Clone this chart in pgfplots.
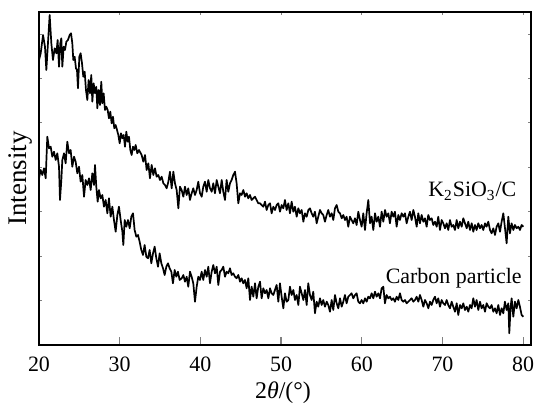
\documentclass[border=0pt]{standalone}
\usepackage{pgfplots}
\pgfplotsset{compat=1.18}
\usepackage{fontspec}
\setmainfont{Liberation Serif}
\begin{document}
\begin{tikzpicture}
\begin{axis}[
  at={(0,0)}, anchor=south west,
  scale only axis, width=246bp, height=166.5bp,
  xmin=20, xmax=80.97, ymin=0, ymax=333,
  xtick={20,30,40,50,60,70,80},
  ytick=\empty,
  xtick pos=left,
  tick align=inside,
  major tick length=4bp,
  tick style={line width=0.6bp},
  axis line style={line width=0.6bp},
  /pgf/number format/assume math mode=true,
  tick label style={font=\fontsize{11}{13}\selectfont},
  xticklabel style={yshift=-2.2bp},
  xlabel={2\textit{θ}/(°)},
  ylabel={Intensity},
  xlabel style={at={(axis description cs:0.496,-0.144)}, anchor=center, font=\fontsize{12}{14}\selectfont},
  ylabel style={at={(axis description cs:-0.0366,0.5)}, anchor=center, rotate=0, font=\fontsize{13.5}{15}\selectfont},
  clip=true,
]
\addplot[black, line width=0.85bp, line join=round] coordinates {
(20.00,285.0)(20.21,291.7)(20.50,310.0)(20.74,298.3)(20.91,275.0)(21.16,308.3)(21.32,330.0)(21.53,301.7)(21.73,285.0)(21.94,296.7)(22.15,291.7)(22.31,305.0)(22.48,278.3)(22.64,301.7)(22.77,306.7)(22.89,278.3)(23.06,298.3)(23.22,295.0)(23.39,303.3)(23.59,305.0)(23.80,310.0)(23.97,311.7)(24.13,301.7)(24.25,285.0)(24.42,288.3)(24.58,276.7)(24.71,275.0)(24.83,256.7)(25.00,288.3)(25.16,291.7)(25.33,281.7)(25.49,268.3)(25.66,273.3)(25.82,255.0)(25.99,245.0)(26.15,265.0)(26.32,251.7)(26.48,270.0)(26.61,243.3)(26.77,261.7)(26.94,251.7)(27.10,258.3)(27.23,236.7)(27.39,255.0)(27.56,240.0)(27.72,263.3)(27.85,241.7)(28.01,251.7)(28.18,235.0)(28.34,238.3)(28.51,235.0)(28.67,226.7)(28.84,233.3)(29.00,221.7)(29.17,228.3)(29.33,216.7)(29.50,220.0)(29.67,215.0)(29.83,210.0)(30.00,201.7)(30.16,211.7)(30.33,206.7)(30.49,210.0)(30.66,198.3)(30.82,213.3)(30.99,203.3)(31.15,208.3)(31.32,195.0)(31.48,190.0)(31.65,198.3)(31.81,195.0)(31.98,200.0)(32.18,191.7)(32.39,195.0)
(32.72,190.0)(32.93,183.3)(33.14,190.0)(33.34,175.0)(33.55,181.7)(33.75,166.7)(33.96,180.0)(34.17,170.0)(34.37,176.7)(34.58,168.3)(34.79,170.0)(34.99,165.0)(35.20,168.3)(35.41,161.7)(35.61,160.0)(35.82,156.7)(36.03,163.3)(36.23,173.3)(36.44,156.7)(36.65,173.3)(36.85,161.7)(37.06,155.0)(37.27,136.7)(37.47,158.3)(37.68,155.0)(37.89,148.3)(38.09,158.3)(38.30,150.0)(38.50,156.7)(38.71,145.0)(38.92,151.7)(39.12,156.7)(39.33,150.0)(39.54,155.0)(39.74,163.3)(39.95,151.7)(40.16,148.3)(40.36,158.3)(40.57,163.3)(40.78,153.3)(40.98,165.0)(41.19,156.7)(41.40,153.3)(41.60,161.7)(41.81,151.7)(42.02,165.0)(42.22,158.3)(42.43,151.7)(42.64,165.0)(42.84,153.3)(43.05,145.0)(43.25,165.0)(43.46,153.3)(43.67,161.7)(43.87,165.0)(44.08,170.0)(44.29,173.3)(44.49,161.7)(44.70,141.7)(44.91,151.7)(45.11,150.0)(45.32,155.0)(45.53,148.3)(45.73,151.7)(45.94,146.7)(46.15,150.0)(46.35,145.0)(46.56,146.7)(46.77,148.3)(46.97,145.0)(47.18,141.7)
(47.39,141.7)(47.59,140.0)(47.80,138.3)(48.01,143.3)(48.21,135.0)(48.42,140.0)(48.63,141.7)(48.83,131.7)(49.04,138.3)(49.25,135.0)(49.45,140.0)(49.66,141.7)(49.86,133.3)(50.07,140.0)(50.28,136.7)(50.48,145.0)(50.69,135.0)(50.90,141.7)(51.10,131.7)(51.31,143.3)(51.52,133.3)(51.72,138.3)(51.93,128.3)(52.14,136.7)(52.34,131.7)(52.55,135.0)(52.76,123.3)(52.96,131.7)(53.17,128.3)(53.38,135.0)(53.58,136.7)(53.79,131.7)(53.99,128.3)(54.20,133.3)(54.41,121.7)(54.61,128.3)(54.82,135.0)(55.03,131.7)(55.23,130.0)(55.44,123.3)(55.65,130.0)(55.85,135.0)(56.06,128.3)(56.27,131.7)(56.47,125.0)(56.68,136.7)(56.89,140.0)(57.09,133.3)(57.30,131.7)(57.51,126.7)(57.71,130.0)(57.92,125.0)(58.12,128.3)(58.33,118.3)(58.54,128.3)(58.74,125.0)(58.95,121.7)(59.16,126.7)(59.36,120.0)(59.57,133.3)(59.78,125.0)(59.98,118.3)(60.19,131.7)(60.40,115.0)(60.60,131.7)(60.81,145.0)(61.02,121.7)(61.22,128.3)(61.43,115.0)(61.64,131.7)(61.84,123.3)(62.05,128.3)(62.26,118.3)(62.46,133.3)(62.67,123.3)(62.88,135.0)(63.08,128.3)(63.29,131.7)(63.49,121.7)(63.70,133.3)(63.91,128.3)(64.11,133.3)(64.32,118.3)(64.53,130.0)(64.73,125.0)(64.94,131.7)(65.15,128.3)(65.35,131.7)(65.56,121.7)(65.77,128.3)(65.97,133.3)(66.18,125.0)(66.39,135.0)(66.59,128.3)(66.80,118.3)(67.01,131.7)(67.21,121.7)(67.42,130.0)(67.63,123.3)(67.83,126.7)(68.04,118.3)(68.24,130.0)(68.45,125.0)(68.66,126.7)(68.86,120.0)(69.07,123.3)(69.28,118.3)(69.48,128.3)(69.69,115.0)(69.90,125.0)(70.10,121.7)(70.31,116.7)(70.52,121.7)(70.72,115.0)(70.93,125.0)(71.14,118.3)(71.34,120.0)(71.55,115.0)(71.76,125.0)(71.96,116.7)(72.17,123.3)(72.38,118.3)(72.58,126.7)(72.79,121.7)(73.00,116.7)(73.20,123.3)(73.41,115.0)(73.62,121.7)(73.82,113.3)(74.03,120.0)(74.23,115.0)(74.44,121.7)(74.65,116.7)(74.85,120.0)(75.06,115.0)(75.27,121.7)(75.47,118.3)(75.68,123.3)(75.89,115.0)(76.09,111.7)(76.30,116.7)(76.51,110.0)(76.71,118.3)(76.92,121.7)(77.13,113.3)(77.33,123.3)(77.54,131.7)(77.75,116.7)(77.95,101.7)(78.16,128.3)(78.36,111.7)(78.57,121.7)(78.78,115.0)(78.98,120.0)(79.19,116.7)(79.40,118.3)(79.60,115.0)(79.81,120.0)(80.02,118.3)
};
\addplot[black, line width=0.85bp, line join=round] coordinates {
(20.00,166.7)(20.21,175.0)(20.41,170.0)(20.62,176.7)(20.83,166.7)(21.03,208.3)(21.24,196.7)(21.45,198.3)(21.65,188.3)(21.86,193.3)(22.07,185.0)(22.27,191.7)(22.48,178.3)(22.60,145.0)(22.77,165.0)(22.89,185.0)(23.10,191.7)(23.30,181.7)(23.51,203.3)(23.72,191.7)(23.92,195.0)(24.13,178.3)(24.34,188.3)(24.54,183.3)(24.75,171.7)(24.96,178.3)(25.16,163.3)(25.37,170.0)(25.58,148.3)(25.78,165.0)(25.99,160.0)(26.20,166.7)(26.40,155.0)(26.61,171.7)(26.82,160.0)(26.94,180.0)(27.10,158.3)(27.27,143.3)(27.43,155.0)(27.64,146.7)(27.85,150.0)(28.05,138.3)(28.26,145.0)(28.47,131.7)(28.67,146.7)(28.88,128.3)(29.09,138.3)(29.29,125.0)(29.50,113.3)(29.71,130.0)(29.91,138.3)(30.12,125.0)(30.33,113.3)(30.45,100.0)(30.62,125.0)(30.82,118.3)(31.03,125.0)(31.24,116.7)(31.44,128.3)(31.65,131.7)(31.85,115.0)(32.06,108.3)(32.27,110.0)(32.47,103.3)(32.68,95.0)(32.89,90.0)(33.09,100.0)(33.30,88.3)(33.51,86.7)(33.71,95.0)(33.92,81.7)(34.13,91.7)(34.33,98.3)(34.54,86.7)(34.75,78.3)(34.95,91.7)(35.16,81.7)(35.37,76.7)(35.57,70.0)(35.78,78.3)(35.99,81.7)(36.19,76.7)(36.40,73.3)(36.60,61.7)(36.81,75.0)(37.02,68.3)(37.22,73.3)(37.43,65.0)
(37.68,66.7)(37.89,70.0)(38.09,63.3)(38.30,68.3)(38.50,58.3)(38.71,73.3)(38.92,68.3)(39.12,61.7)(39.33,43.3)(39.54,58.3)(39.74,68.3)(39.95,65.0)(40.16,73.3)(40.36,65.0)(40.57,75.0)(40.78,68.3)(40.98,78.3)(41.19,61.7)(41.40,73.3)(41.60,80.0)(41.81,71.7)(42.02,78.3)(42.22,60.0)(42.43,73.3)(42.64,75.0)(42.84,78.3)(43.05,68.3)(43.25,73.3)(43.46,71.7)(43.67,76.7)(43.87,70.0)(44.08,71.7)(44.29,68.3)(44.49,66.7)(44.70,70.0)(44.91,63.3)(45.11,66.7)(45.32,61.7)(45.53,65.0)(45.73,56.7)(45.94,66.7)(46.15,45.0)(46.35,58.3)(46.56,48.3)(46.77,61.7)(46.97,46.7)(47.18,58.3)(47.39,63.3)(47.59,46.7)(47.80,56.7)(48.01,51.7)(48.21,55.0)(48.42,46.7)(48.63,56.7)(48.83,51.7)(49.04,50.0)(49.24,55.0)(49.45,60.0)(49.66,43.3)(49.86,61.7)(50.07,48.3)(50.28,36.7)(50.48,51.7)(50.69,43.3)(50.90,45.0)(51.10,58.3)(51.31,50.0)(51.52,55.0)(51.72,45.0)(51.93,50.0)(52.14,40.0)(52.34,58.3)(52.55,51.7)(52.76,45.0)(52.96,55.0)(53.17,40.0)(53.37,61.7)(53.58,50.0)(53.79,45.0)(53.99,53.3)(54.20,31.7)(54.41,43.3)(54.61,38.3)(54.82,46.7)(55.03,40.0)(55.23,45.0)(55.44,38.3)(55.65,43.3)(55.85,40.0)(56.06,33.3)(56.27,45.0)(56.47,35.0)(56.68,50.0)(56.89,41.7)(57.09,36.7)(57.30,46.7)(57.51,38.3)(57.71,43.3)(57.92,50.0)(58.12,41.7)(58.33,48.3)(58.54,50.0)(58.74,51.7)(58.95,46.7)(59.16,50.0)(59.36,51.7)(59.57,43.3)
(59.78,41.7)(59.98,45.0)(60.19,41.7)(60.40,46.7)(60.60,43.3)(60.81,48.3)(61.02,46.7)(61.22,51.7)(61.43,46.7)(61.64,53.3)(61.84,48.3)(62.05,51.7)(62.26,46.7)(62.46,56.7)(62.67,58.3)(62.87,41.7)(63.08,50.0)(63.29,46.7)(63.50,48.3)(63.70,45.0)(63.91,46.7)(64.11,43.3)(64.32,48.3)(64.53,45.0)(64.73,51.7)(64.94,45.0)(65.15,43.3)(65.35,45.0)(65.56,41.7)(65.77,43.3)(65.97,45.0)(66.18,46.7)(66.39,43.3)(66.59,45.0)(66.80,48.3)(67.01,43.3)(67.21,50.0)(67.42,45.0)(67.63,38.3)(67.83,45.0)(68.04,41.7)(68.25,36.7)(68.45,43.3)(68.66,40.0)(68.86,45.0)(69.07,48.3)(69.28,41.7)(69.48,46.7)(69.69,38.3)(69.90,45.0)(70.10,41.7)(70.31,40.0)(70.52,45.0)(70.72,40.0)(70.93,36.7)(71.14,43.3)(71.34,38.3)(71.55,33.3)(71.76,41.7)(71.96,30.0)(72.17,40.0)(72.38,36.7)(72.58,41.7)(72.79,35.0)(73.00,38.3)(73.20,33.3)(73.41,40.0)(73.61,36.7)(73.82,46.7)(74.03,38.3)(74.23,45.0)(74.44,35.0)(74.65,43.3)(74.85,36.7)(75.06,40.0)(75.27,33.3)(75.47,41.7)(75.68,38.3)(75.89,36.7)(76.09,40.0)(76.30,33.3)(76.51,36.7)(76.71,31.7)(76.92,40.0)(77.13,30.0)(77.33,36.7)(77.54,31.7)(77.74,43.3)(77.95,35.0)(78.16,41.7)(78.28,11.7)(78.45,38.3)(78.57,46.7)(78.78,28.3)(78.98,43.3)(79.19,36.7)(79.40,45.0)(79.60,38.3)(79.81,30.0)(80.02,28.3)
};
\node[anchor=base east, font=\fontsize{11}{13}\selectfont, inner sep=0pt] at (axis cs:79.2,148) {K\textsubscript{2}SiO\textsubscript{3}/C};
\node[anchor=base east, font=\fontsize{11}{13}\selectfont, inner sep=0pt] at (axis cs:79.85,62) {Carbon particle};
\end{axis}
\begin{axis}[
  at={(0,0)}, anchor=south west,
  scale only axis, width=246bp, height=166.5bp,
  xmin=20, xmax=80.97, ymin=0, ymax=333,
  xtick={20,30,40,50,60,70,80},
  ytick={44.4,88.8,133.2,177.6,222,266.4,310.8},
  xticklabels={}, yticklabels={},
  xtick pos=right, ytick pos=both,
  tick align=inside,
  major tick length=1.4bp,
  tick style={line width=0.5bp},
  axis line style={line width=0.6bp},
]
\end{axis}
\pgfresetboundingbox
\path (-19.5bp,-30bp) rectangle (248.5bp,172.5bp);
\end{tikzpicture}
\end{document}
